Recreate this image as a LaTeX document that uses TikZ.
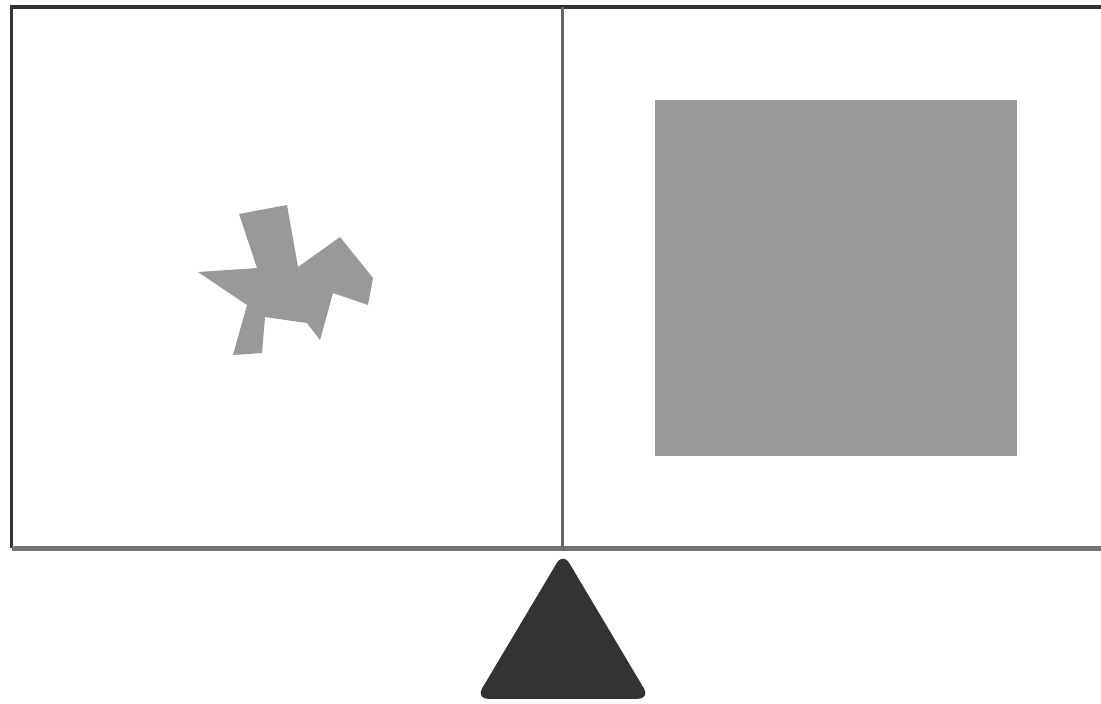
\documentclass[tikz,border=0pt]{standalone}
\begin{document}
\begin{tikzpicture}[
    x=0.02cm, y=-0.02cm,
    loadfill/.style={fill=gray!80, draw=none},
    frameline/.style={draw=black!80, line width=3pt*0.57},
    panline/.style={draw=black!55, line width=5pt*0.57},
    divider/.style={draw=black!60, line width=3pt*0.57},
    pivot/.style={fill=black!80, draw=black!80, line width=2pt, line join=round, rounded corners=5pt}
  ]
    \useasboundingbox (0,0) rectangle (1101,703);
    % scale pan
    \coordinate (tl) at (11.5,7);
    \coordinate (tr) at (1110,7);
    \coordinate (bl) at (11.5,548);
    \coordinate (br) at (1110,548);
    \fill[white] (tl) rectangle (br);
    \draw[frameline] (tr) -- (tl) -- (bl);
    \draw[panline] (bl) -- (br);
    \draw[divider] (562.5,7) -- (562.5,548);
    % left load
    \fill[loadfill] (239,214) -- (287,205) -- (298,267) -- (340,237) -- (373,278)
      -- (368,305) -- (333,293) -- (320,340) -- (307,323) -- (265,317)
      -- (262,353) -- (233,355) -- (247,305) -- (198,272) -- (257,268) -- cycle;
    % right load
    \fill[loadfill] (655,100) rectangle (1017,456);
    % fulcrum
    \draw[pivot] (563,556) -- (647,697) -- (479,697) -- cycle;
\end{tikzpicture}
\end{document}
